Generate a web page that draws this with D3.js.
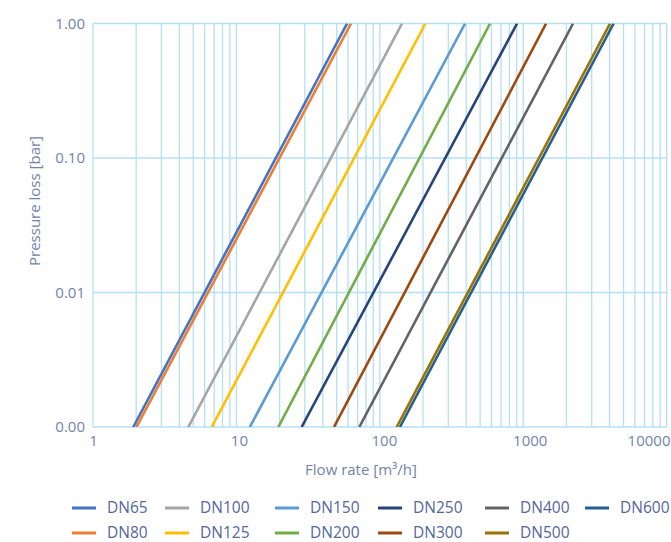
<!DOCTYPE html>
<html><head><meta charset="utf-8">
<script src="https://cdn.jsdelivr.net/npm/d3@7"></script>
<style>
html,body{margin:0;padding:0;background:#fff;}
svg{display:block;font-family:"Open Sans",sans-serif;}
</style></head>
<body><svg id="c" width="671" height="542"></svg>
<script>
// Data: flow rate [m³/h] where each curve meets 0.001 bar and 1 bar
const series = ["DN65","DN80","DN100","DN125","DN150","DN200","DN250","DN300","DN400","DN500","DN600"];
const qAtLow  = [1.91, 2.01, 4.62, 6.73, 12.4, 19.6, 28.5, 47.9, 71.9, 131, 138];
const qAtHigh = [59.1, 63.0, 142.8, 208, 393, 587, 905, 1443, 2224, 4030, 4266];
const lossLow = 0.001, lossHigh = 1;
const colors = ["#4472C4","#ED7D31","#A5A5A5","#FFC000","#5B9BD5","#70AD47","#264478","#9E480E","#636363","#997300","#255E91"];
const xTicks = [1,10,100,1000,10000];
const yTicks = [0.001,0.01,0.1,1];

(function(){
const svg = d3.select("#c");
const pL = 93, pR = 666.7, pT = 23.5, pB = 427;
const x = d3.scaleLog().domain([1,10000]).range([pL,pR]);
const y = d3.scaleLog().domain([0.001,1]).range([pB,pT]);
const gridColor = "#b3e0f4";
const textColor = "#7283ad";

// minor vertical grid
const minor = [];
for (let d=1; d<10000; d*=10) for (let k=1;k<10;k++) minor.push(d*k);
minor.push(10000);
svg.append("g").selectAll("line").data(minor).join("line")
  .attr("x1",d=>x(d)).attr("x2",d=>x(d)).attr("y1",pT).attr("y2",pB)
  .attr("stroke",gridColor).attr("stroke-width",1.3);
svg.append("g").selectAll("line").data(yTicks).join("line")
  .attr("x1",pL).attr("x2",pR).attr("y1",d=>y(d)).attr("y2",d=>y(d))
  .attr("stroke",gridColor).attr("stroke-width",1.3);

// axes
const xAxis = d3.axisBottom(x).tickValues(xTicks).tickFormat(d3.format("d")).tickSize(0).tickPadding(8);
const gx = svg.append("g").attr("transform",`translate(0,${pB})`).call(xAxis);
gx.select(".domain").remove();
gx.selectAll("text").attr("fill",textColor).attr("font-size",15).attr("font-family","Open Sans");
// label placement as in the original (labels drift right slightly; last one kept inside)
const shift = [0, 2.5, 4, 6.5, 0];
gx.selectAll(".tick text").each(function(d,i){
  const t = d3.select(this);
  if (i === xTicks.length-1) { t.attr("text-anchor","end").attr("x", 670 - x(d)); }
  else t.attr("x", shift[i]);
});
const yAxis = d3.axisLeft(y).tickValues(yTicks).tickFormat(d3.format(".2f")).tickSize(0).tickPadding(8);
const gy = svg.append("g").attr("transform",`translate(${pL},0)`).call(yAxis);
gy.select(".domain").remove();
gy.selectAll("text").attr("fill",textColor).attr("font-size",15).attr("font-family","Open Sans");

// axis titles
svg.append("text").attr("x",361).attr("y",475).attr("text-anchor","middle")
  .attr("fill",textColor).attr("font-size",15).text("Flow rate [m³/h]");
svg.append("text").attr("transform","translate(40,201) rotate(-90)").attr("text-anchor","middle")
  .attr("fill",textColor).attr("font-size",15).text("Pressure loss [bar]");

// lines
const line = d3.line().x(d=>x(d[0])).y(d=>y(d[1]));
svg.append("defs").append("clipPath").attr("id","pc").append("rect")
  .attr("x",pL).attr("y",pT).attr("width",pR-pL).attr("height",pB-pT);
svg.append("g").attr("clip-path","url(#pc)").selectAll("path").data(series).join("path")
  .attr("d",(s,i)=>line([[qAtLow[i],lossLow],[qAtHigh[i],lossHigh]]))
  .attr("fill","none").attr("stroke",(s,i)=>colors[i]).attr("stroke-width",2.6);

// legend
const colX = [72,165,275,378,485,585];
const rowY = [508,533];
const lg = svg.append("g").selectAll("g").data(series).join("g")
  .attr("transform",(s,i)=>`translate(${colX[Math.floor(i/2)]},${rowY[i%2]})`);
lg.append("line").attr("x1",0).attr("x2",24).attr("y1",0).attr("y2",0)
  .attr("stroke",(s,i)=>colors[i]).attr("stroke-width",3);
lg.append("text").attr("x",35).attr("y",0).attr("dy","0.35em")
  .attr("fill","#5466a0").attr("font-size",15.5).text(s=>s);
})();
</script></body></html>
